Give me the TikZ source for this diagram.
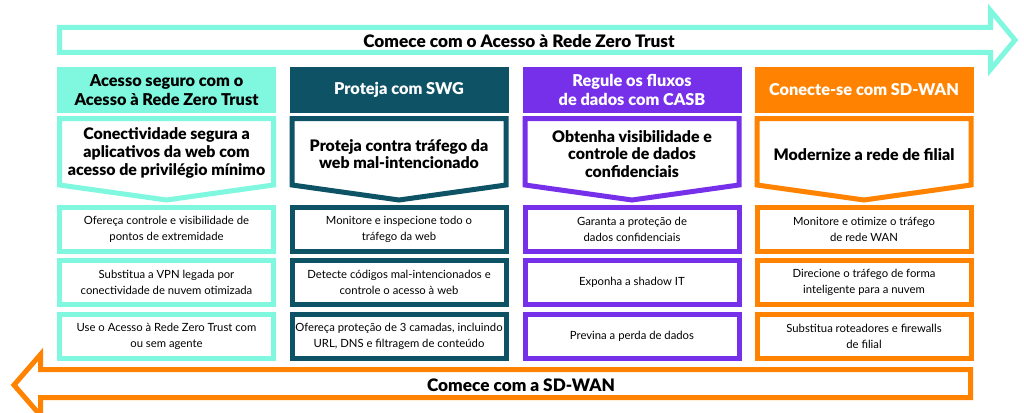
\documentclass[tikz,border=0pt]{standalone}
\usepackage{fontspec}
\setmainfont{Lato}[BoldFont={Lato Black}]
\definecolor{mint}{HTML}{7FF8DF}
\definecolor{dteal}{HTML}{0E5265}
\definecolor{purp}{HTML}{7630EA}
\definecolor{orng}{HTML}{FF8300}
\begin{document}
\begin{tikzpicture}[x=1pt,y=-1pt,
  hdr/.style={rectangle, minimum width=219pt, minimum height=46pt, inner sep=0pt, align=center, font=\fontsize{16.3}{19}\selectfont\bfseries},
  bodytxt/.style={align=center, inner sep=0pt, font=\fontsize{15.9}{17.7}\selectfont\bfseries},
  smbox/.style={draw, line width=5pt, fill=white, minimum width=214pt, minimum height=44pt, inner sep=0pt, align=center, font=\fontsize{11.3}{16}\selectfont},
  chev/.style={line width=5pt, fill=white, line join=miter},
  bigarrow/.style={line width=5pt, fill=white, line join=miter},
  arrtxt/.style={inner sep=0pt, font=\fontsize{17.2}{18}\selectfont\bfseries}]
\useasboundingbox (0,0) rectangle (1024,412);
\clip (0,0) rectangle (1024,412);

% top arrow
\draw[bigarrow, draw=mint] (59.5,27.5) -- (990.5,27.5) -- (990.5,10.5) -- (1015,40) -- (990.5,69.5) -- (990.5,52.5) -- (59.5,52.5) -- cycle;
\node[arrtxt] (toplbl) at (519,41) {Comece com o Acesso à Rede Zero Trust};

% bottom arrow
\draw[bigarrow, draw=orng] (970.5,369.5) -- (40.5,369.5) -- (40.5,354.5) -- (14,385) -- (40.5,415.5) -- (40.5,397.5) -- (970.5,397.5) -- cycle;
\node[arrtxt] (botlbl) at (521,385) {Comece com a SD-WAN};

% column 1
\node[hdr, fill=mint, text=black] (h1) at (166.5,90) {Acesso seguro com o\\Acesso à Rede Zero Trust};
\draw[chev, draw=mint] (59.5,118.5) -- (273.5,118.5) -- (273.5,185) -- (166.5,200) -- (59.5,185) -- cycle;
\node[bodytxt] (b1) at (166.5,153) {Conectividade segura a\\aplicativos da web com\\acesso de privilégio mínimo};
\node[smbox, draw=mint] (s11) at (166.5,229) {Ofereça controle e visibilidade de\\pontos de extremidade};
\node[smbox, draw=mint] (s12) at (166.5,282.5) {Substitua a VPN legada por\\conectividade de nuvem otimizada};
\node[smbox, draw=mint] (s13) at (166.5,336.5) {Use o Acesso à Rede Zero Trust com\\ou sem agente};

% column 2
\node[hdr, fill=dteal, text=white] (h2) at (399,90) {Proteja com SWG};
\draw[chev, draw=dteal] (292,118.5) -- (506,118.5) -- (506,185) -- (399,200) -- (292,185) -- cycle;
\node[bodytxt] (b2) at (399,154) {Proteja contra tráfego da\\web mal-intencionado};
\node[smbox, draw=dteal] (s21) at (399,229) {Monitore e inspecione todo o\\tráfego da web};
\node[smbox, draw=dteal] (s22) at (399,282.5) {Detecte códigos mal-intencionados e\\controle o acesso à web};
\node[smbox, draw=dteal] (s23) at (399,336.5) {Ofereça proteção de 3 camadas, incluindo\\URL, DNS e filtragem de conteúdo};

% column 3
\node[hdr, fill=purp, text=white] (h3) at (632,90) {Regule os fluxos\\de dados com CASB};
\draw[chev, draw=purp] (525,118.5) -- (739,118.5) -- (739,185) -- (632,200) -- (525,185) -- cycle;
\node[bodytxt] (b3) at (632,154) {Obtenha visibilidade e\\controle de dados\\confidenciais};
\node[smbox, draw=purp] (s31) at (632,229) {Garanta a proteção de\\dados confidenciais};
\node[smbox, draw=purp] (s32) at (632,282.5) {Exponha a shadow IT};
\node[smbox, draw=purp] (s33) at (632,336.5) {Previna a perda de dados};

% column 4
\node[hdr, fill=orng, text=white] (h4) at (864,90) {Conecte-se com SD-WAN};
\draw[chev, draw=orng] (757,118.5) -- (971,118.5) -- (971,185) -- (864,200) -- (757,185) -- cycle;
\node[bodytxt] (b4) at (864,155) {Modernize a rede de filial};
\node[smbox, draw=orng] (s41) at (864,229) {Monitore e otimize o tráfego\\de rede WAN};
\node[smbox, draw=orng] (s42) at (864,282.5) {Direcione o tráfego de forma\\inteligente para a nuvem};
\node[smbox, draw=orng] (s43) at (864,336.5) {Substitua roteadores e firewalls\\de filial};
\end{tikzpicture}
\end{document}
